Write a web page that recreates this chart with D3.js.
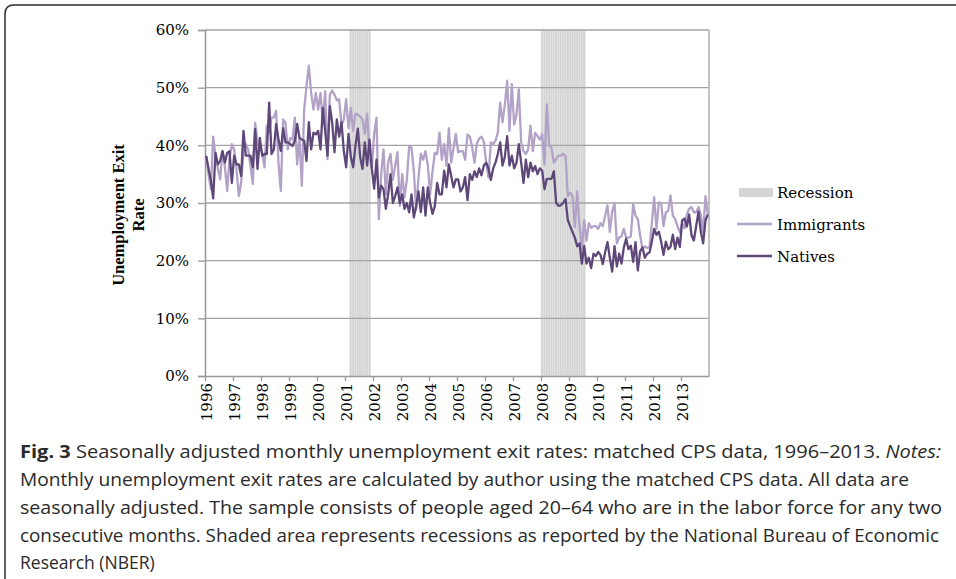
<!DOCTYPE html>
<html>
<head>
<meta charset="utf-8">
<script src="https://cdn.jsdelivr.net/npm/d3@7"></script>
<style>
  body { margin: 0; background: #fff; }
  svg { display: block; }
</style>
</head>
<body>
<div id="chart"></div>
<script>
// monthly series, Jan 1996 .. Dec 2013 (percent)
const years = d3.range(1996, 2014)
const immigrants = [
  38, 35, 32.4, 41.5, 38, 36, 34.1, 39, 36.4, 32.1, 37.6, 40.2,
  39.3, 35.9, 31.2, 33.6, 38.7, 40.2, 39.3, 36.4, 33.3, 43.9, 40.5, 39.6,
  38.7, 36.2, 43.4, 42.2, 44.8, 44.8, 46, 37, 32.1, 44.5, 43.9, 39.3,
  41.3, 41, 44.8, 36.7, 41.3, 33, 46.2, 50.3, 53.8, 49.1, 46.2, 49.1,
  46.2, 49.1, 43.9, 49.4, 37.6, 48.8, 49.5, 48.8, 47.8, 48, 43.5, 44.5,
  48, 43, 46.5, 42.5, 45.5, 45.3, 45, 44.5, 42, 45.5, 38, 36,
  42, 44.8, 27.2, 35, 39.3, 31.5, 37, 38.5, 34, 36.5, 38.8, 29.5,
  35, 31, 34, 39.9, 39.6, 35.5, 28.8, 34.5, 38.5, 37.5, 39, 36.5,
  31.5, 35.5, 38.7, 38.5, 42.2, 37.5, 40.2, 36.5, 43, 37, 39.5, 42,
  38.8, 39, 39, 37.5, 41.9, 41.5, 39.7, 37, 40.3, 41.2, 41.5, 40.6,
  37, 34.4, 40.5, 40.2, 40.8, 42.2, 47.4, 44, 47, 51.2, 42.5, 50.6,
  43.6, 45.3, 49.7, 40.5, 39, 38.5, 39.3, 43.4, 39, 42.2, 41.6, 41,
  41.9, 36.7, 47.1, 40, 39.5, 37, 37.6, 38.2, 38.2, 38.5, 38.2, 31.2,
  31.8, 31.2, 25.8, 32, 26, 22, 27, 23.5, 26.5, 25.7, 26, 26,
  25.5, 26.5, 26, 27.8, 29.6, 25, 28.5, 30, 23, 24, 24.2, 25.5,
  24, 24, 24.2, 29.8, 27.8, 27.2, 24.3, 22, 22.5, 22.2, 22.3, 26.5,
  31, 25.5, 30.1, 30, 26, 28.4, 28.6, 31.3, 27.8, 27.2, 26, 24.9,
  26.5, 25.6, 28, 29, 29.3, 28.4, 28.4, 29.3, 28, 25, 31.2, 28
]
const natives = [
  38.2, 36, 34, 30.8, 38.7, 36.7, 37.3, 39, 37, 38.7, 39, 33.5,
  38.2, 36.7, 36.7, 34.7, 42.5, 38.2, 38.2, 38.2, 36.2, 42.8, 35.9, 41.3,
  38.2, 38.5, 38.5, 47.4, 38.5, 39.3, 43.7, 41, 39, 43, 40.5, 40.5,
  40.2, 39.9, 40.8, 43.7, 41.3, 41, 40.8, 37.3, 44, 39.3, 42.2, 41.9,
  42.5, 39.3, 46.5, 42.5, 38.2, 46.8, 44, 38.8, 44.5, 41.5, 44, 39,
  36.2, 42, 38, 36.2, 40, 42.9, 38, 35.9, 40.5, 36.5, 41, 36,
  32.5, 37.5, 31, 33, 32.4, 29, 31.5, 35, 30, 31.2, 32.7, 30,
  31.5, 29, 30, 28.4, 31.5, 27.5, 29.5, 32, 28.4, 32.7, 27.8, 32.7,
  30, 28.1, 29.5, 33.5, 31.5, 31.5, 35.6, 32.7, 36.7, 34.7, 32.7, 34.1,
  34.1, 32, 32.7, 34.5, 30.5, 35, 34, 35.5, 34.5, 36, 34.8, 36.5,
  37, 36, 34, 36, 37, 38.5, 40.5, 36.5, 38, 41.6, 36.5, 38.2,
  36, 37, 40.2, 37, 33.5, 37.5, 34.5, 37, 35.5, 36.4, 35, 36,
  35.6, 32.4, 34.2, 34.2, 34.2, 35.5, 30, 29.5, 29.6, 30, 30.7, 27,
  26, 25, 24, 22.5, 23, 19.5, 22.5, 19.5, 20.5, 18.7, 21.2, 20.8,
  21.5, 21, 19.4, 21.5, 23.2, 20.5, 18.1, 22.5, 19, 21.2, 19.5, 22.3,
  23.8, 22, 22.6, 19.8, 23.2, 18.3, 21.6, 22.3, 20.5, 21.2, 21.4, 23.3,
  25.5, 24.5, 25, 23.3, 21, 23.3, 22, 22.4, 24.5, 22, 24, 22.4,
  27, 27.3, 25.9, 28, 24.4, 23.5, 26, 28.5, 25, 23, 27, 28
]
// recession shading, first and last shaded month
const recessionStart = ["2001-03", "2008-01"]
const recessionEnd = ["2001-11", "2009-07"]
const yTicks = [0, 10, 20, 30, 40, 50, 60]

const captionLines = [
  [["Fig. 3", "bold"], [" Seasonally adjusted monthly unemployment exit rates: matched CPS data, 1996\u20132013. ", ""], ["Notes:", "italic"]],
  [["Monthly unemployment exit rates are calculated by author using the matched CPS data. All data are", ""]],
  [["seasonally adjusted. The sample consists of people aged 20\u201364 who are in the labor force for any two", ""]],
  [["consecutive months. Shaded area represents recessions as reported by the National Bureau of Economic", ""]],
  [["Research (NBER)", ""]]
]
const captionWidths = [921, 889, 922, 919, null]

const width = 956, height = 579
const plotLeft = 205, plotRight = 709, plotTop = 30, plotBottom = 376
const serif = "'DejaVu Serif', serif"

const svg = d3.select("#chart").append("svg")
  .attr("width", width)
  .attr("height", height)

// figure frame
svg.append("path")
  .attr("d", "M5,579 V14 Q5,5 14,5 H960")
  .attr("fill", "none")
  .attr("stroke", "#2b2b2b")
  .attr("stroke-width", 1.5)

const nMonths = natives.length
const x = d3.scaleLinear().domain([0, nMonths]).range([plotLeft, plotRight])
const y = d3.scaleLinear().domain([0, 60]).range([plotBottom, plotTop])

const monthIndex = s => {
  const [yy, mm] = s.split("-").map(Number)
  return (yy - 1996) * 12 + (mm - 1)
}

// recession bars, one per month
const recMonths = []
recessionStart.forEach((s, i) => {
  for (let m = monthIndex(s); m <= monthIndex(recessionEnd[i]); m++) recMonths.push(m)
})
svg.append("g").selectAll("rect")
  .data(recMonths)
  .enter().append("rect")
  .attr("x", d => x(d))
  .attr("y", y(60))
  .attr("width", x(1) - x(0))
  .attr("height", y(0) - y(60))
  .attr("fill", "#d5d5d5")
  .attr("stroke", "#e3e3e3")
  .attr("stroke-width", 0.6)

// gridlines
svg.append("g").selectAll("line")
  .data(yTicks.filter(d => d > 0))
  .enter().append("line")
  .attr("x1", plotLeft).attr("x2", plotRight)
  .attr("y1", d => y(d)).attr("y2", d => y(d))
  .attr("stroke", "#a3a3a3")
  .attr("stroke-width", 1.3)

// right border
svg.append("line")
  .attr("x1", plotRight).attr("x2", plotRight)
  .attr("y1", plotTop).attr("y2", plotBottom)
  .attr("stroke", "#a3a3a3")
  .attr("stroke-width", 1.3)

// y axis
const yAxis = svg.append("g")
  .attr("transform", `translate(${plotLeft},0)`)
  .call(d3.axisLeft(y).tickValues(yTicks).tickFormat(d => d + "%").tickSize(7).tickPadding(9))
yAxis.select(".domain").attr("stroke", "#999").attr("stroke-width", 1.5)
yAxis.selectAll(".tick line").attr("stroke", "#999").attr("stroke-width", 1.3)
yAxis.selectAll("text").attr("font-family", serif).attr("font-size", 15).attr("fill", "#000")

// x axis
const xAxis = svg.append("g")
  .attr("transform", `translate(0,${plotBottom})`)
  .call(d3.axisBottom(x)
    .tickValues(years.map(yr => (yr - 1996) * 12))
    .tickFormat(d => 1996 + d / 12)
    .tickSize(5)
    .tickSizeOuter(0))
xAxis.select(".domain").attr("stroke", "#999").attr("stroke-width", 1.5)
xAxis.selectAll(".tick line").attr("stroke", "#999").attr("stroke-width", 1.3)
xAxis.selectAll(".tick text")
  .attr("font-family", serif).attr("font-size", 15).attr("fill", "#000")
  .attr("transform", "translate(1.5,0) rotate(-90)")
  .attr("text-anchor", "end")
  .attr("x", -7)
  .attr("y", 0)
  .attr("dy", "0.35em")

// series lines
const line = d3.line()
  .x((d, i) => x(i + 0.5))
  .y(d => y(d))

svg.append("path")
  .datum(immigrants)
  .attr("fill", "none")
  .attr("stroke", "#b3a2c7")
  .attr("stroke-width", 2.3)
  .attr("stroke-linejoin", "round")
  .attr("d", line)

svg.append("path")
  .datum(natives)
  .attr("fill", "none")
  .attr("stroke", "#5d4879")
  .attr("stroke-width", 2.3)
  .attr("stroke-linejoin", "round")
  .attr("d", line)

// y title
const yTitle = svg.append("text")
  .attr("transform", "translate(124,215) rotate(-90)")
  .attr("text-anchor", "middle")
  .attr("font-family", "'Liberation Serif', serif")
  .attr("font-weight", "bold")
  .attr("font-size", 16.5)
yTitle.append("tspan").attr("x", 0).attr("y", 0).text("Unemployment Exit")
yTitle.append("tspan").attr("x", 0).attr("y", 20).text("Rate")

// legend
const legend = svg.append("g").attr("font-family", serif).attr("font-size", 15)
legend.append("rect")
  .attr("x", 739).attr("y", 188).attr("width", 34).attr("height", 9)
  .attr("fill", "#d5d5d5")
legend.append("text").attr("x", 777).attr("y", 198).text("Recession")
legend.append("line")
  .attr("x1", 737).attr("x2", 772).attr("y1", 224).attr("y2", 224)
  .attr("stroke", "#b3a2c7").attr("stroke-width", 2.3)
legend.append("text").attr("x", 777).attr("y", 230).text("Immigrants")
legend.append("line")
  .attr("x1", 737).attr("x2", 772).attr("y1", 256).attr("y2", 256)
  .attr("stroke", "#5d4879").attr("stroke-width", 2.3)
legend.append("text").attr("x", 777).attr("y", 262).text("Natives")

// caption
const baselines = [458, 486, 514, 542, 569]
captionLines.forEach((parts, i) => {
  const t = svg.append("text")
    .attr("x", 20)
    .attr("y", baselines[i])
    .attr("font-family", "'Open Sans', sans-serif")
    .attr("font-size", 17.5)
    .attr("fill", "#2a2a2a")
  if (captionWidths[i]) t.attr("textLength", captionWidths[i]).attr("lengthAdjust", "spacingAndGlyphs")
  parts.forEach(p => {
    const s = t.append("tspan").text(p[0])
    if (p[1] === "bold") s.attr("font-weight", "bold")
    if (p[1] === "italic") s.attr("font-style", "italic")
  })
})
</script>
</body>
</html>
